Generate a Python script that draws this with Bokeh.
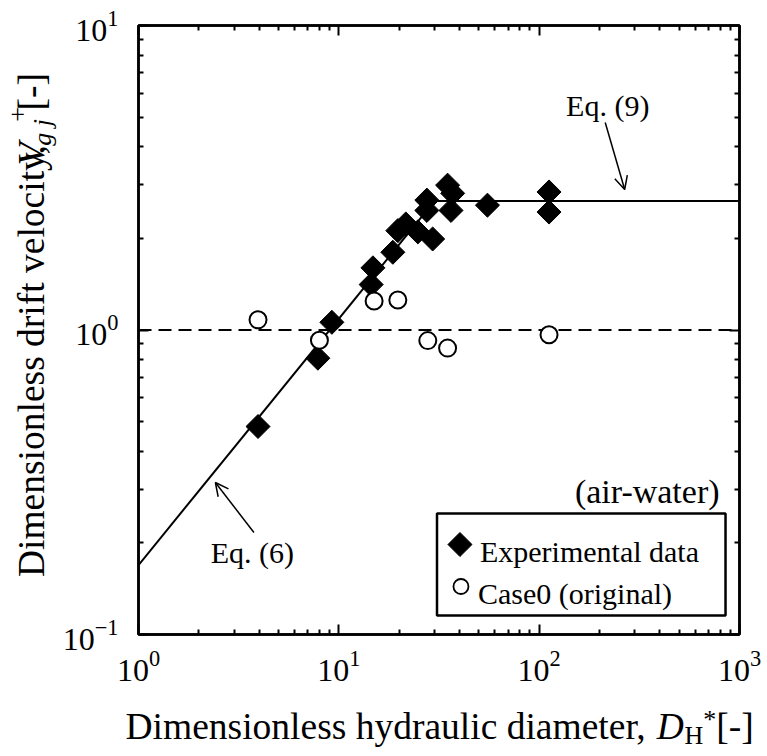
import math
from bokeh.plotting import figure
from bokeh.layouts import column, row
from bokeh.models import (Range1d, LogAxis, FixedTicker, LogTicker, Label, Arrow, OpenHead,
                          BoxAnnotation, LogTickFormatter, CustomJSTickFormatter)
from bokeh.embed import file_html
from bokeh.resources import INLINE

# ---------------- data ----------------
exp_x = [3.95, 7.86, 9.23, 14.5, 14.8, 18.6, 19.7, 21.6, 24.8, 29.4, 27.5, 27.5,
         34.9, 37.0, 36.3, 55.2, 112, 112]
exp_y = [0.482, 0.808, 1.06, 1.41, 1.60, 1.80, 2.12, 2.23, 2.10, 1.99, 2.67, 2.47,
         2.99, 2.81, 2.47, 2.57, 2.84, 2.44]
case0_x = [3.95, 8.0, 15.0, 19.7, 27.8, 34.9, 112]
case0_y = [1.08, 0.925, 1.245, 1.254, 0.923, 0.872, 0.965]
eq6_x = [1, 30]
eq6_y = [0.169, 2.65]
eq9_x = [30, 1000]
eq9_y = [2.65, 2.65]
ref_x = [1, 1000]
ref_y = [1.0, 1.0]
x_ticks = [1, 10, 100, 1000]
y_ticks = [0.1, 1, 10]
x_minor = [m * 10 ** k for k in range(0, 3) for m in range(2, 10)]
y_minor = [m * 10 ** k for k in range(-1, 1) for m in range(2, 10)]

FONT = "Liberation Serif"
W, H = 767, 756
FL, FR, FT, FB = 137, 739, 25, 634      # plot frame in page pixels
YW = 59                                 # width of the y-title strip
MH = 700                                # height of the main row
FW, FH = FR - FL, FB - FT


def X(px):
    return 10 ** ((px - FL) / FW * 3)


def Y(py):
    return 10 ** (1 - (py - FT) / FH * 2)


p = figure(width=W - YW, height=MH, x_axis_type="log", y_axis_type="log",
           x_range=Range1d(1, 1000), y_range=Range1d(0.1, 10),
           output_backend="svg", toolbar_location=None,
           min_border_left=FL - YW, min_border_right=W - FR,
           min_border_top=FT, min_border_bottom=MH - FB)
p.background_fill_color = "white"
p.border_fill_color = "white"
p.outline_line_color = "black"
p.outline_line_width = 2.5
p.grid.visible = False

bottom_ax = p.below[0]
left_ax = p.left[0]
top_ax = LogAxis()
right_ax = LogAxis()
p.add_layout(top_ax, "above")
p.add_layout(right_ax, "right")

for ax, ticks, minor in [(bottom_ax, x_ticks, x_minor), (top_ax, x_ticks, x_minor),
                         (left_ax, y_ticks, y_minor), (right_ax, y_ticks, y_minor)]:
    ax.ticker = FixedTicker(ticks=ticks, minor_ticks=minor)
    ax.formatter = LogTickFormatter(ticker=LogTicker())
    ax.major_tick_in = 10
    ax.major_tick_out = 0
    ax.minor_tick_in = 5
    ax.minor_tick_out = 0
    ax.major_tick_line_width = 2
    ax.minor_tick_line_width = 2
    ax.major_tick_line_color = "black"
    ax.minor_tick_line_color = "black"
    ax.axis_line_color = "black"
    ax.axis_line_width = 2.5
    ax.major_label_text_font = FONT
    ax.major_label_text_color = "black"
    ax.major_label_text_font_size = "32px"

for ax in (top_ax, right_ax):
    ax.formatter = CustomJSTickFormatter(code="return ''")
    ax.major_label_text_font_size = "1px"
    ax.major_label_standoff = 0

bottom_ax.major_label_standoff = 16
left_ax.major_label_standoff = 20

# ---------------- lines ----------------
p.line(ref_x, ref_y, line_color="black", line_width=2, line_dash="13 7")
p.line(eq6_x, eq6_y, line_color="black", line_width=2)
p.line(eq9_x, eq9_y, line_color="black", line_width=2)

# ---------------- markers ----------------
p.scatter(exp_x, exp_y, marker="square", angle=math.pi / 4, size=17,
          fill_color="black", line_color="black")
p.scatter(case0_x, case0_y, marker="circle", size=17, fill_color="white",
          line_color="black", line_width=2)

# ---------------- annotations ----------------
p.add_layout(Label(x=X(607), y=Y(105), text="Eq. (9)", text_font=FONT,
                   text_font_size="30px", text_align="center",
                   text_baseline="middle", text_color="black"))
p.add_layout(Arrow(end=OpenHead(size=13, line_width=1.5, line_color="black"),
                   x_start=X(604.5), y_start=Y(122), x_end=X(624), y_end=Y(189),
                   line_width=1.5, line_color="black"))
p.add_layout(Label(x=X(251), y=Y(552), text="Eq. (6)", text_font=FONT,
                   text_font_size="30px", text_align="center",
                   text_baseline="middle", text_color="black"))
p.add_layout(Arrow(end=OpenHead(size=13, line_width=1.5, line_color="black"),
                   x_start=X(252.6), y_start=Y(532), x_end=X(214), y_end=Y(482),
                   line_width=1.5, line_color="black"))
p.add_layout(Label(x=X(719), y=Y(491), text="(air-water)", text_font=FONT,
                   text_font_size="34px", text_align="right",
                   text_baseline="middle", text_color="black"))

# ---------------- legend (drawn by hand) ----------------
p.add_layout(BoxAnnotation(left=X(436), right=X(725), top=Y(513), bottom=Y(615),
                           fill_color="white", fill_alpha=1, line_color="black",
                           line_alpha=1, line_width=2.5, level="underlay"))
p.scatter([X(459)], [Y(544)], marker="square", angle=math.pi / 4, size=17,
          fill_color="black", line_color="black")
p.scatter([X(460)], [Y(586)], marker="circle", size=15, fill_color="white",
          line_color="black", line_width=1.8)
p.add_layout(Label(x=X(479), y=Y(551), text="Experimental data", text_font=FONT,
                   text_font_size="30px", text_baseline="alphabetic", text_color="black"))
p.add_layout(Label(x=X(477), y=Y(593), text="Case0 (original)", text_font=FONT,
                   text_font_size="30px", text_baseline="alphabetic", text_color="black"))


# ---------------- axis titles in their own strips ----------------
def strip(w, h):
    f = figure(width=w, height=h, x_range=Range1d(0, w), y_range=Range1d(h, 0),
               x_axis_location=None, y_axis_location=None,
               output_backend="svg", toolbar_location=None,
               min_border=0, min_border_left=0, min_border_right=0,
               min_border_top=0, min_border_bottom=0)
    f.outline_line_color = None
    f.grid.visible = False
    f.background_fill_color = "white"
    f.border_fill_color = "white"
    return f


F = 37.5
FS = 26

# x title strip: page x 0..W, page y MH..H
xt = strip(W, H - MH)
xb = 726 - MH
xs = 125
parts_x = [
    ("Dimensionless hydraulic diameter, ", xs, xb, F, "normal"),
    ("D", xs + 14.165 * F, xb, F, "italic"),
    ("H", xs + 14.165 * F + 0.74 * F, xb + 9, FS, "normal"),
    ("*", xs + 14.165 * F + 0.74 * F + 0.722 * FS, xb - 7, FS, "normal"),
    ("[-]", xs + 14.165 * F + 0.74 * F + 0.722 * FS + 0.5 * FS, xb, F, "normal"),
]
for t, px, py, fs, st in parts_x:
    xt.add_layout(Label(x=px, y=py, text=t, text_font=FONT,
                        text_font_size=f"{fs}px", text_font_style=st,
                        text_align="left", text_baseline="alphabetic",
                        text_color="black"))

# y title strip: page x 0..YW, page y 0..MH (rotated, reads bottom to top)
# each piece is anchored at its centre (x across the line, y along it)
yt = strip(YW, MH)
ys = 603
c_main = 31
w_main = 11.583 * F
w_sp = 0.25 * F
w_v = 0.611 * F
w_gj = 1.028 * FS
w_plus = 0.564 * FS
w_br = 0.999 * F
y0 = ys
parts_y = []
parts_y.append(("Dimensionless drift velocity,", c_main, y0 - w_main / 2, F, "normal"))
y0 -= w_main + w_sp
parts_y.append(("V", c_main, y0 - w_v / 2, F, "italic"))
y0 -= w_v
parts_y.append(("g j", 42, y0 - w_gj / 2, FS, "italic"))
y0 -= w_gj
parts_y.append(("+", 17, y0 - w_plus / 2, FS, "normal"))
y0 -= w_plus
parts_y.append(("[-]", c_main, y0 - w_br / 2, F, "normal"))
for t, px, py, fs, st in parts_y:
    yt.add_layout(Label(x=px, y=py, text=t, text_font=FONT, angle=math.pi / 2,
                        text_font_size=f"{fs}px", text_font_style=st,
                        text_align="center", text_baseline="middle",
                        text_color="black"))

layout = column(row(yt, p, spacing=0), xt, spacing=0)
open("out.html", "w").write(file_html(layout, INLINE))
